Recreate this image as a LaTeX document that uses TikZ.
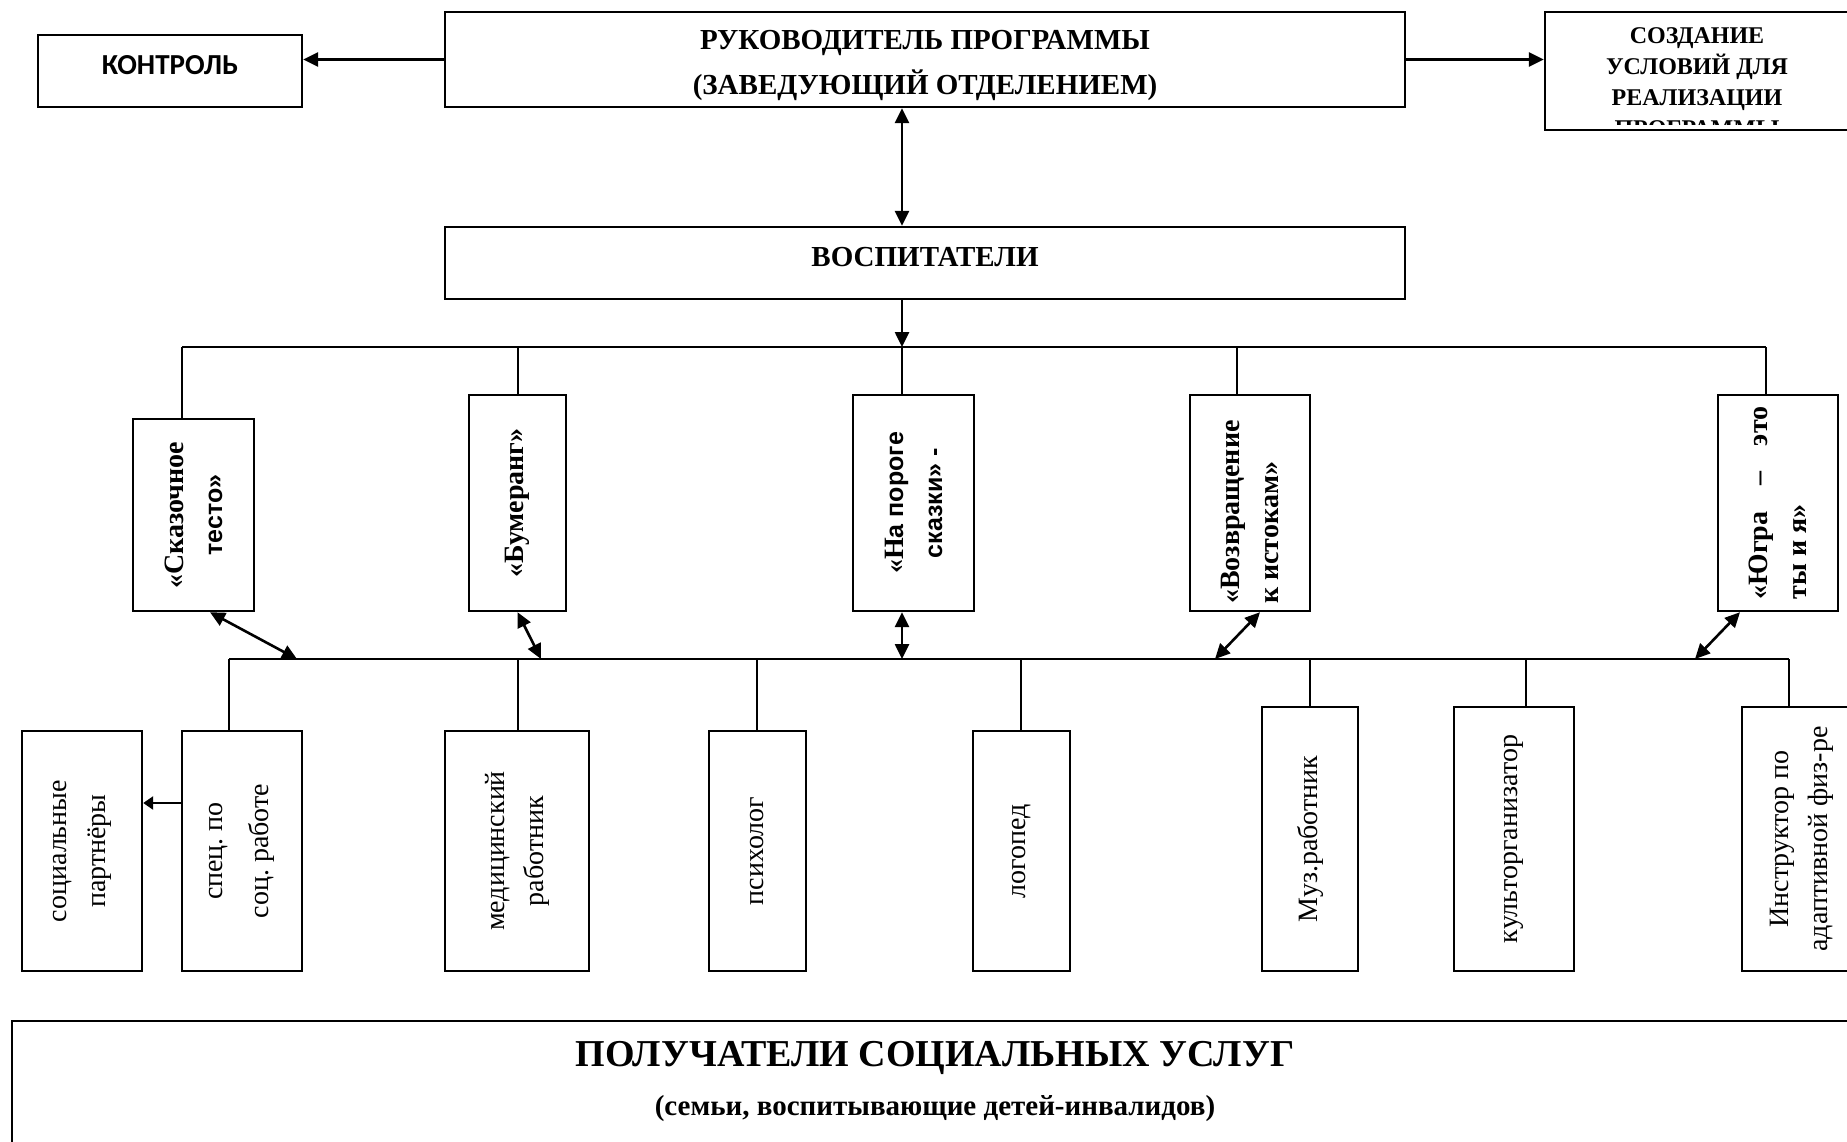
\documentclass[tikz,border=0pt]{standalone}
\usepackage{fontspec}
\setmainfont{Liberation Serif}
\newfontfamily\arialfont{Liberation Sans}
\newfontfamily\calibrifont{Carlito}
\usetikzlibrary{arrows.meta}
\frenchspacing
\newcommand{\headfont}{\bfseries\fontsize{29}{45}\selectfont}
\newcommand{\sozdfont}{\bfseries\fontsize{24}{31}\selectfont}
\newcommand{\progfont}{\bfseries\fontsize{28}{39}\selectfont}
\newcommand{\progsans}{\arialfont\fontsize{25}{39}\selectfont}
\newcommand{\staffont}{\fontsize{28}{39}\selectfont}
\newcommand{\bigfont}{\bfseries\fontsize{38}{44}\selectfont}
\newcommand{\subfont}{\bfseries\fontsize{29}{33}\selectfont}
\tikzset{box/.style = {draw, rectangle, line width=2.4pt, inner sep=0}}
\tikzset{conn/.style = {line width=2pt}}
\tikzset{arr/.style = {-{Triangle[length=15pt,width=14pt]}, line width=2.6pt}}
\tikzset{dbl/.style = {{Triangle[length=15pt,width=14pt]}-{Triangle[length=15pt,width=14pt]},
                       line width=2.6pt}}
\tikzset{vtxt/.style = {rotate=90, align=center, inner sep=0}}
\tikzset{htxt/.style = {align=center, inner sep=0}}

\begin{document}
\begin{tikzpicture}[x=1pt, y=-1pt]
  \useasboundingbox (0,0) rectangle (1847,1141);

  % top row
  \node[box, minimum width=960, minimum height=95,
        label={[htxt, yshift=-6pt, font=\headfont]center:{РУКОВОДИТЕЛЬ ПРОГРАММЫ\\(ЗАВЕДУЮЩИЙ ОТДЕЛЕНИЕМ)}}]
    (ruk) at (925,59.5) {};
  \node[box, minimum width=264, minimum height=72,
        label={[htxt, yshift=6pt, font=\calibrifont\bfseries\fontsize{29}{34}\selectfont]center:{КОНТРОЛЬ}}]
    (kontrol) at (170,71) {};
  \node[box, minimum width=305, minimum height=118] (sozd) at (1697.5,71) {};
  \begin{scope}
    \clip ([yshift=7pt]sozd.south west) rectangle (sozd.north east);
    \node[htxt, font=\sozdfont] (sozdtxt) at (1697,82.5)
      {СОЗДАНИЕ\\УСЛОВИЙ ДЛЯ\\РЕАЛИЗАЦИИ\\ПРОГРАММЫ};
  \end{scope}
  \node[box, minimum width=960, minimum height=72,
        label={[htxt, yshift=6pt, font=\headfont]center:{ВОСПИТАТЕЛИ}}]
    (vosp) at (925,263) {};

  % programmes
  \node[box, minimum width=121, minimum height=192,
        label={[vtxt, font=\progfont]center:{«Сказочное\\{\progsans тесто»}}}] (skaz) at (193.5,515) {};
  \node[box, minimum width=97, minimum height=216,
        label={[vtxt, font=\progfont]center:{«Бумеранг»}}] (bum) at (517.5,503) {};
  \node[box, minimum width=121, minimum height=216,
        label={[vtxt, font=\progfont]center:{«Н{\progsans а пороге}\\{\progsans сказки» -}}}] (porog) at (913.5,503) {};
  \node[box, minimum width=120, minimum height=216,
        label={[yshift=-9pt, vtxt, font=\progfont, align=left]center:{«Возвращение\\к истокам»}}] (vozvr) at (1250,503) {};
  \node[box, minimum width=120, minimum height=216,
        label={[vtxt, font=\progfont, align=left]center:{\makebox[193pt]{«Югра\hfill–\hfill это}\\ты и я»}}] (yugra) at (1778,503) {};

  % staff
  \node[box, minimum width=120, minimum height=240,
        label={[vtxt, font=\staffont]center:{социальные\\партнёры}}] (socp) at (82,851) {};
  \node[box, minimum width=120, minimum height=240,
        label={[vtxt, font=\fontsize{28}{46}\selectfont]center:{спец. по\\соц. работе}}] (spec) at (242,851) {};
  \node[box, minimum width=144, minimum height=240,
        label={[vtxt, font=\staffont]center:{медицинский\\работник}}] (med) at (517,851) {};
  \node[box, minimum width=97, minimum height=240,
        label={[vtxt, font=\staffont]center:{психолог}}] (psih) at (757.5,851) {};
  \node[box, minimum width=97, minimum height=240,
        label={[vtxt, font=\staffont]center:{логопед}}] (logo) at (1021.5,851) {};
  \node[box, minimum width=96, minimum height=264,
        label={[vtxt, font=\staffont]center:{Муз.работник}}] (muz) at (1310,839) {};
  \node[box, minimum width=120, minimum height=264,
        label={[vtxt, font=\staffont]center:{культорганизатор}}] (kult) at (1514,839) {};
  \node[box, minimum width=120, minimum height=264,
        label={[vtxt, font=\staffont]center:{Инструктор по\\адаптивной физ-ре}}] (instr) at (1802,839) {};

  % recipients
  \node[box, minimum width=1860, minimum height=140, anchor=north west] (poluch) at (11,1020) {};
  \node[font=\bigfont, anchor=base] (poluchA) at (935,1066) {ПОЛУЧАТЕЛИ СОЦИАЛЬНЫХ УСЛУГ};
  \node[font=\subfont, anchor=base] (poluchB) at (935,1115) {(семьи, воспитывающие детей-инвалидов)};

  % buses
  \coordinate (tSkaz) at (182,347);
  \coordinate (tBum) at (518,347);
  \coordinate (tPorog) at (902,347);
  \coordinate (tVozvr) at (1237,347);
  \coordinate (tYugra) at (1766,347);
  \coordinate (bSpec) at (229,659);
  \coordinate (bMed) at (518,659);
  \coordinate (bPsih) at (757,659);
  \coordinate (bLogo) at (1021,659);
  \coordinate (bMuz) at (1310,659);
  \coordinate (bKult) at (1526,659);
  \coordinate (bInstr) at (1789,659);
  \coordinate (hSkaz) at (297,659);
  \coordinate (hBum) at (541,659);
  \coordinate (hPorog) at (902,659);
  \coordinate (hVozvr) at (1215,659);
  \coordinate (hYugra) at (1695,659);

  \draw[conn] (tSkaz) -- (tYugra);
  \foreach \t/\n in {tSkaz/skaz, tBum/bum, tPorog/porog, tVozvr/vozvr, tYugra/yugra}
    \draw[conn] (\t) -- (\t |- \n.north);
  \draw[conn] (bSpec) -- (bInstr);
  \foreach \t/\n in {bSpec/spec, bMed/med, bPsih/psih, bLogo/logo, bMuz/muz, bKult/kult, bInstr/instr}
    \draw[conn] (\t) -- (\t |- \n.north);

  % arrows
  \draw[arr] (ruk.west) -- (ruk.west -| kontrol.east);
  \draw[arr] (ruk.east) -- (ruk.east -| sozd.west);
  \draw[dbl] (ruk.south -| tPorog) -- (vosp.north -| tPorog);
  \draw[arr] (vosp.south -| tPorog) -- (tPorog);
  \draw[dbl] ([xshift=16.5pt]skaz.south) -- (hSkaz);
  \draw[dbl] (bum.south) -- (hBum);
  \draw[dbl] (porog.south -| tPorog) -- (hPorog);
  \draw[dbl] ([xshift=10pt]vozvr.south) -- (hVozvr);
  \draw[dbl] ([xshift=-38pt]yugra.south) -- (hYugra);
  \draw[-{Triangle[length=10pt,width=13pt]}, line width=2.6pt]
    ([yshift=48pt]spec.west) -- ([yshift=48pt]socp.east);
\end{tikzpicture}
\end{document}
